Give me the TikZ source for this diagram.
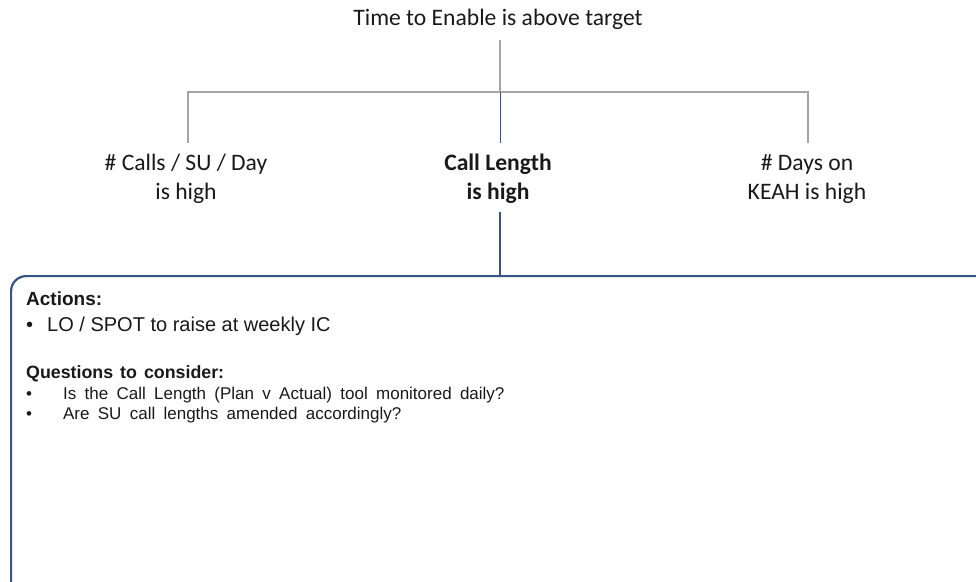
\documentclass[tikz,border=0pt]{standalone}
\usepackage{fontspec}
\setmainfont{Carlito}
\newfontfamily\arialish{Liberation Sans}
\newcommand\wideheadfont{\arialish\fontsize{17.8}{22}\selectfont\bfseries\spaceskip=7pt plus 1pt\relax}
\newcommand\widebodyfont{\arialish\fontsize{17}{20}\selectfont\spaceskip=8.3pt plus 1pt\relax}
\begin{document}
\definecolor{treegray}{RGB}{165,165,165}
\definecolor{framblue}{RGB}{55,84,135}
\definecolor{inktext}{RGB}{25,25,25}
\begin{tikzpicture}[x=1pt,y=-1pt,
  lbl/.style={inner sep=0pt,text=inktext,align=center,font=\fontsize{23.6}{29}\selectfont},
  treeline/.style={draw=treegray,line width=1.6pt},
  blueline/.style={draw=framblue,line width=2.2pt},
  bodytext/.style={inner sep=0pt,anchor=base west,text=inktext}]
\useasboundingbox (0,0) rectangle (976,581);
\clip (0,0) rectangle (976,581);

% root and children (base anchor sits on the last line)
\node[lbl,anchor=base] (root) at (498,25) {Time to Enable is above target};
\node[lbl,anchor=base] (calls) at (186,199) {\# Calls / SU / Day\\is high};
\node[lbl,anchor=base,font=\fontsize{23.6}{29}\selectfont\bfseries] (length) at (498,199) {Call Length\\is high};
\node[lbl,anchor=base] (days) at (807,199) {\# Days on\\KEAH is high};

% tree connectors
\coordinate (top) at (500,40);
\coordinate (bar) at (500,92);
\coordinate (lt) at (188,143);
\coordinate (rt) at (808,143);
\coordinate (mt) at (500,143);
\draw[treeline] (top) -- (bar);
\draw[treeline] (lt) |- (bar) -| (rt);
\draw[draw=framblue,line width=0.9pt] (bar) -- (mt);

% action box
\coordinate (lo) at (500,212);
\node[draw=framblue,line width=2.2pt,rounded corners=15pt,minimum width=1000pt,minimum height=340pt,anchor=north west,inner sep=0pt] (box) at (10,275) {};
\draw[blueline] (lo) -- (box.north -| lo);

\node[bodytext,font=\arialish\fontsize{19}{22}\selectfont\bfseries] (act) at (26,305) {Actions:};
\node[bodytext,font=\arialish\fontsize{20}{24}\selectfont] (a1) at (26,331) {\textbullet\hspace{14pt}LO / SPOT to raise at weekly IC};
\node[bodytext,font=\wideheadfont] (q) at (26,378) {Questions to consider:};
\node[bodytext,font=\widebodyfont] (q1) at (26,399.5) {\textbullet\hspace{31pt}Is the Call Length (Plan v Actual) tool monitored daily?};
\node[bodytext,font=\widebodyfont] (q2) at (26,419.5) {\textbullet\hspace{31pt}Are SU call lengths amended accordingly?};
\end{tikzpicture}
\end{document}
